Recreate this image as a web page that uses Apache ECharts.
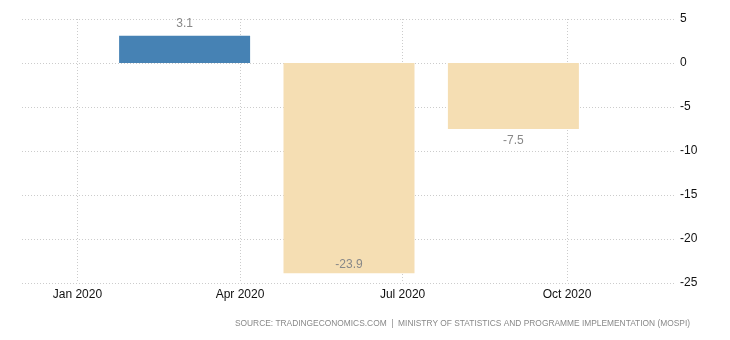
<!DOCTYPE html>
<html>
<head>
<meta charset="utf-8">
<script src="https://cdn.jsdelivr.net/npm/echarts@6/dist/echarts.min.js"></script>
<style>
  html, body { margin: 0; padding: 0; background: #fff; }
  #chart { width: 730px; height: 340px; }
</style>
</head>
<body>
<div id="chart"></div>
<script>
// Quarterly GDP growth rate, 2020 (percent)
const periods = ['2020-03-01', '2020-06-01', '2020-09-01'];
const growth = [3.1, -23.9, -7.5];
const tickDates = ['2020-01-01', '2020-04-01', '2020-07-01', '2020-10-01'];
const yTicks = { min: -25, max: 5, step: 5 };
const sourceText = 'SOURCE: TRADINGECONOMICS.COM  |  MINISTRY OF STATISTICS AND PROGRAMME IMPLEMENTATION (MOSPI)';

const MONTHS = ['Jan', 'Feb', 'Mar', 'Apr', 'May', 'Jun', 'Jul', 'Aug', 'Sep', 'Oct', 'Nov', 'Dec'];
const ts = s => new Date(s + 'T00:00:00Z').getTime();
const tickValues = tickDates.map(ts);

const chart = echarts.init(document.getElementById('chart'));
chart.setOption({
  animation: false,
  backgroundColor: '#ffffff',
  grid: { left: 22, right: 54, top: 19, bottom: 57, containLabel: false },
  xAxis: {
    // dates as millisecond timestamps on a linear scale
    type: 'value',
    min: ts('2019-12-01'),
    max: ts('2020-12-01'),
    axisLine: { show: false },
    axisTick: { show: false, customValues: tickValues },
    splitLine: { show: true, lineStyle: { color: '#cccccc', type: [1, 2], width: 1 } },
    axisLabel: {
      customValues: tickValues,
      color: '#111',
      fontFamily: 'Liberation Sans',
      fontSize: 12,
      margin: 6,
      formatter: v => { const d = new Date(v); return MONTHS[d.getUTCMonth()] + ' ' + d.getUTCFullYear(); }
    }
  },
  yAxis: {
    type: 'value',
    position: 'right',
    min: yTicks.min,
    max: yTicks.max,
    interval: yTicks.step,
    axisLine: { show: false },
    axisTick: { show: false },
    splitLine: { show: true, lineStyle: { color: '#cccccc', type: [1, 2], width: 1 } },
    axisLabel: { color: '#111', fontFamily: 'Liberation Sans', fontSize: 12, margin: 4 }
  },
  series: [{
    type: 'bar',
    barWidth: 131,
    data: periods.map((p, i) => {
      const v = growth[i];
      const inside = v < -20;
      return {
        value: [ts(p), v],
        itemStyle: { color: v >= 0 ? '#4682b4' : '#f5deb3' },
        label: {
          show: true,
          position: v >= 0 ? 'top' : (inside ? 'insideBottom' : 'bottom'),
          distance: inside ? 3 : 6,
          color: '#888',
          fontFamily: 'Liberation Sans',
          fontSize: 12,
          formatter: () => v.toFixed(1)
        }
      };
    })
  }],
  graphic: [{
    type: 'text',
    right: 40,
    top: 320,
    style: {
      text: sourceText,
      fill: '#888',
      font: '8.4px "Liberation Sans"'
    }
  }]
});
</script>
</body>
</html>
